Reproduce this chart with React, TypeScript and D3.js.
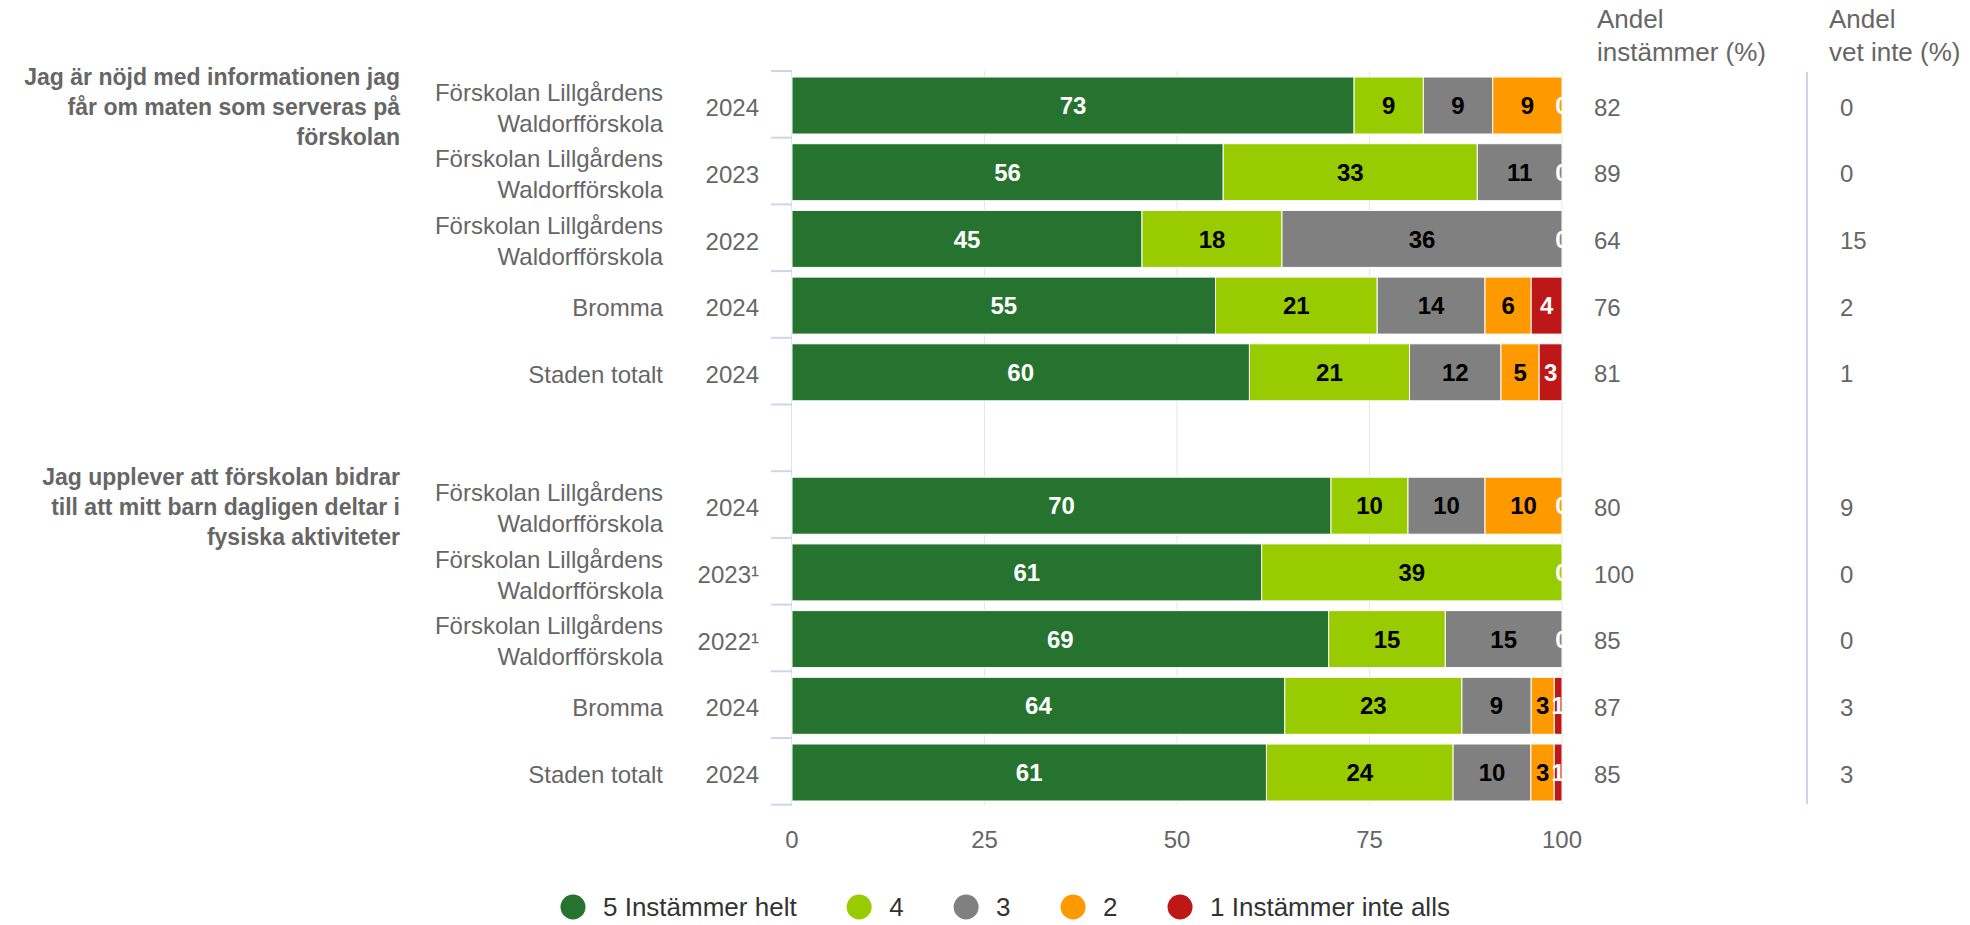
import React, { useRef, useEffect } from 'react';
import * as d3 from 'd3';

const FONT = '"Liberation Sans", Arial, Helvetica, sans-serif';

const questions = [
    'Jag är nöjd med informationen jag får om maten som serveras på förskolan',
    'Jag upplever att förskolan bidrar till att mitt barn dagligen deltar i fysiska aktiviteter',
];

const units = [
    'Förskolan Lillgårdens Waldorfförskola',
    'Förskolan Lillgårdens Waldorfförskola',
    'Förskolan Lillgårdens Waldorfförskola',
    'Bromma',
    'Staden totalt',
];
const q1Years = ['2024', '2023', '2022', '2024', '2024'];
const q2Years = ['2024', '2023¹', '2022¹', '2024', '2024'];

const seriesNames = ['5 Instämmer helt', '4', '3', '2', '1 Instämmer inte alls'];
const seriesColors = ['#267330', '#99cc00', '#808080', '#ff9900', '#bd1717'];
const labelColors = ['#ffffff', '#000000', '#000000', '#000000', '#ffffff'];

// question 1, one array per answer level (5 -> 1)
const q1Level5 = [73, 56, 45, 55, 60];
const q1Level4 = [9, 33, 18, 21, 21];
const q1Level3 = [9, 11, 36, 14, 12];
const q1Level2 = [9, 0, 0, 6, 5];
const q1Level1 = [0, 0, 0, 4, 3];
const q1Andel = [82, 89, 64, 76, 81];
const q1VetInte = [0, 0, 15, 2, 1];

// question 2
const q2Level5 = [70, 61, 69, 64, 61];
const q2Level4 = [10, 39, 15, 23, 24];
const q2Level3 = [10, 0, 15, 9, 10];
const q2Level2 = [10, 0, 0, 3, 3];
const q2Level1 = [0, 0, 0, 1, 1];
const q2Andel = [80, 100, 85, 87, 85];
const q2VetInte = [9, 0, 0, 3, 3];

const xTicks = [0, 25, 50, 75, 100];
const tableHeaders = [['Andel', 'instämmer (%)'], ['Andel', 'vet inte (%)']];

interface Row {
    q: number;
    first: boolean;
    unit: string;
    year: string;
    values: number[];
    andel: number;
    vetInte: number;
}

const buildRows = (): (Row | null)[] => {
    const groups = [
        { years: q1Years, levels: [q1Level5, q1Level4, q1Level3, q1Level2, q1Level1], andel: q1Andel, vet: q1VetInte },
        { years: q2Years, levels: [q2Level5, q2Level4, q2Level3, q2Level2, q2Level1], andel: q2Andel, vet: q2VetInte },
    ];
    const rows: (Row | null)[] = [];
    groups.forEach((g, qi) => {
        if (qi > 0) rows.push(null); // blank category between the questions
        units.forEach((u, i) => {
            rows.push({
                q: qi,
                first: i === 0,
                unit: u,
                year: g.years[i],
                values: g.levels.map(l => l[i]),
                andel: g.andel[i],
                vetInte: g.vet[i],
            });
        });
    });
    return rows;
};

export default function App() {
    const ref = useRef<SVGSVGElement>(null);

    useEffect(() => {
        if (!ref.current) return;
        const svg = d3.select(ref.current);
        svg.selectAll('*').remove();
        svg.style('font-family', FONT);

        const rows = buildRows();
        const x0 = 792, x1 = 1562;
        const xScale = d3.scaleLinear().domain([0, 100]).range([x0, x1]);
        const yScale = d3.scaleBand<number>().domain(d3.range(rows.length)).range([71, 804.7]);
        const step = yScale.step();
        const barOffset = 6, barHeight = 57;
        const barCenter = (i: number) => (yScale(i) as number) + barOffset + barHeight / 2;

        // grid lines
        svg.append('g').selectAll('line')
            .data(xTicks.slice(1))
            .enter().append('line')
            .attr('x1', d => xScale(d)).attr('x2', d => xScale(d))
            .attr('y1', 71).attr('y2', 804.7)
            .attr('stroke', '#e6e6e6').attr('stroke-width', 1);

        // category axis line and ticks
        svg.append('line')
            .attr('x1', x0 - 0.5).attr('x2', x0 - 0.5)
            .attr('y1', 71).attr('y2', 804.7)
            .attr('stroke', '#dde2ea').attr('stroke-width', 1);
        svg.append('g').selectAll('line')
            .data(d3.range(rows.length + 1))
            .enter().append('line')
            .attr('x1', x0 - 21).attr('x2', x0)
            .attr('y1', d => 71 + d * step).attr('y2', d => 71 + d * step)
            .attr('stroke', '#ccd6eb').attr('stroke-width', 2);

        // x axis labels
        svg.append('g').selectAll('text')
            .data(xTicks)
            .enter().append('text')
            .attr('x', d => xScale(d)).attr('y', 848)
            .attr('text-anchor', 'middle')
            .attr('font-size', 24).attr('fill', '#666666')
            .text(d => d);

        // stacked bars (percent stacking)
        const barsG = svg.append('g');
        const labelsG = svg.append('g');
        rows.forEach((r, i) => {
            if (!r) return;
            const total = d3.sum(r.values);
            let cum = 0;
            const y = (yScale(i) as number) + barOffset;
            r.values.forEach((v, s) => {
                const start = (cum / total) * 100;
                cum += v;
                const end = (cum / total) * 100;
                if (v > 0) {
                    barsG.append('rect')
                        .attr('x', xScale(start)).attr('y', y)
                        .attr('width', xScale(end) - xScale(start)).attr('height', barHeight)
                        .attr('fill', seriesColors[s])
                        .attr('stroke', '#ffffff').attr('stroke-width', 1);
                }
                if (v > 0 || s === r.values.length - 1) {
                    labelsG.append('text')
                        .attr('x', xScale((start + end) / 2)).attr('y', y + barHeight / 2)
                        .attr('dy', '0.36em')
                        .attr('text-anchor', 'middle')
                        .attr('font-size', 24).attr('font-weight', 'bold')
                        .attr('fill', labelColors[s])
                        .text(v);
                }
            });
        });

        // category labels: unit name and year
        const catG = svg.append('g').attr('font-size', 24).attr('fill', '#666666');
        rows.forEach((r, i) => {
            if (!r) return;
            const cy = barCenter(i) + 2;
            const sp = r.unit.lastIndexOf(' ');
            const lines = r.unit.length > 22 ? [r.unit.slice(0, sp), r.unit.slice(sp + 1)] : [r.unit];
            const t = catG.append('text').attr('text-anchor', 'end');
            lines.forEach((l, k) => {
                t.append('tspan')
                    .attr('x', 663)
                    .attr('y', cy + (k - (lines.length - 1) / 2) * 31)
                    .attr('dy', '0.36em')
                    .text(l);
            });
            catG.append('text')
                .attr('x', 759).attr('y', cy).attr('dy', '0.36em')
                .attr('text-anchor', 'end')
                .text(r.year);
        });

        // question titles, wrapped by width
        const measure = svg.append('text').attr('font-size', 23).attr('font-weight', 'bold');
        const textWidth = (s: string) => {
            measure.text(s);
            return (measure.node() as SVGTextElement).getComputedTextLength();
        };
        const wrap = (s: string, maxW: number) => {
            const words = s.split(' ');
            const out: string[] = [];
            let line = '';
            words.forEach(w => {
                const test = line ? line + ' ' + w : w;
                if (line && textWidth(test) > maxW) {
                    out.push(line);
                    line = w;
                } else line = test;
            });
            if (line) out.push(line);
            return out;
        };
        rows.forEach((r, i) => {
            if (!r || !r.first) return;
            const lines = wrap(questions[r.q], 388);
            const top = (yScale(i) as number) + 6;
            const t = svg.append('text')
                .attr('text-anchor', 'end')
                .attr('font-size', 23).attr('font-weight', 'bold')
                .attr('fill', '#666666');
            lines.forEach((l, k) => {
                t.append('tspan').attr('x', 400).attr('y', top + k * 30).attr('dy', '0.36em').text(l);
            });
        });
        measure.remove();

        // table columns on the right
        const colX = [1597, 1829];
        const valX = [1594, 1840];
        tableHeaders.forEach((h, c) => {
            const t = svg.append('text').attr('font-size', 26).attr('fill', '#666666');
            h.forEach((l, k) => {
                t.append('tspan').attr('x', colX[c]).attr('y', 28 + k * 33).text(l);
            });
        });
        svg.append('line')
            .attr('x1', 1807).attr('x2', 1807)
            .attr('y1', 72).attr('y2', 804)
            .attr('stroke', '#ccd6eb').attr('stroke-width', 2);
        const tableG = svg.append('g').attr('font-size', 24).attr('fill', '#666666');
        rows.forEach((r, i) => {
            if (!r) return;
            [r.andel, r.vetInte].forEach((v, c) => {
                tableG.append('text')
                    .attr('x', valX[c]).attr('y', barCenter(i) + 1.5).attr('dy', '0.36em')
                    .text(v);
            });
        });

        // legend
        const legendG = svg.append('g');
        let cx = 573;
        const ly = 907;
        seriesNames.forEach((name, s) => {
            legendG.append('circle')
                .attr('cx', cx).attr('cy', ly).attr('r', 12.5)
                .attr('fill', seriesColors[s]);
            const t = legendG.append('text')
                .attr('x', cx + 30).attr('y', ly).attr('dy', '0.36em')
                .attr('font-size', 26).attr('fill', '#333333')
                .text(name);
            const w = (t.node() as SVGTextElement).getComputedTextLength();
            cx = cx + 30 + w + 50 + 12.5;
        });
    }, []);

    return (
        <div style={{ position: 'absolute', left: 0, top: 0 }}>
            <svg ref={ref} width={1970} height={925} />
        </div>
    );
}
